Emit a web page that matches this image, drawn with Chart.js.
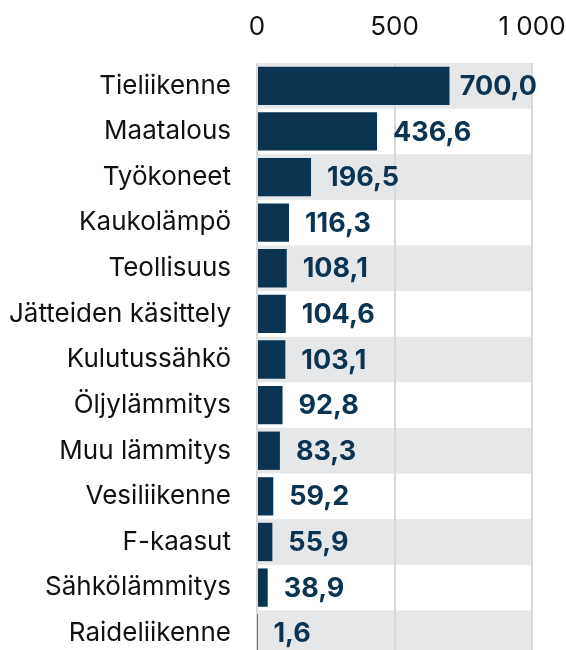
<!DOCTYPE html>
<html>
<head>
<meta charset="utf-8">
<script src="https://cdn.jsdelivr.net/npm/chart.js@4"></script>
<style>
    html, body { margin: 0; padding: 0; background: #fff; overflow: hidden; }
    #wrap { width: 566px; height: 656px; position: relative; }
</style>
</head>
<body>
<div id="wrap"><canvas id="chart"></canvas></div>
<script>
const categories = ["Tieliikenne", "Maatalous", "Työkoneet", "Kaukolämpö", "Teollisuus",
    "Jätteiden käsittely", "Kulutussähkö", "Öljylämmitys", "Muu lämmitys", "Vesiliikenne",
    "F-kaasut", "Sähkölämmitys", "Raideliikenne"];
const values = [700.0, 436.6, 196.5, 116.3, 108.1, 104.6, 103.1, 92.8, 83.3, 59.2, 55.9, 38.9, 1.6];
const tickValues = [0, 500, 1000];

const barColor = "#0b3352";
const bandColor = "#e6e7e8";
const gridColor = "#d9d9d9";

const fmtValue = v => v.toFixed(1).replace(".", ",");
const fmtTick = v => String(v).replace(/\B(?=(\d{3})+(?!\d))/g, " ");

// grey bands behind every other row
const rowBands = {
    id: "rowBands",
    beforeDraw(chart) {
        const {ctx, chartArea, scales} = chart;
        const y = scales.y;
        const step = Math.abs(y.getPixelForValue(1) - y.getPixelForValue(0));
        ctx.save();
        ctx.fillStyle = bandColor;
        categories.forEach((c, i) => {
            if (i % 2 !== 0) return;
            const cy = y.getPixelForValue(i);
            ctx.fillRect(chartArea.left, cy - step / 2, chartArea.right - chartArea.left, step);
        });
        ctx.restore();
    }
};

// value labels after each bar
const valueLabels = {
    id: "valueLabels",
    afterDatasetsDraw(chart) {
        const {ctx} = chart;
        const meta = chart.getDatasetMeta(0);
        ctx.save();
        ctx.font = "bold 27px Inter";
        ctx.fillStyle = barColor;
        ctx.textBaseline = "middle";
        ctx.textAlign = "left";
        meta.data.forEach((bar, i) => {
            const txt = fmtValue(values[i]);
            const w = ctx.measureText(txt).width;
            let x = bar.x + 16;
            if (x + w > 537) x = 537 - w;
            ctx.fillText(txt, x, bar.y + 1);
        });
        ctx.restore();
    }
};

new Chart(document.getElementById("chart"), {
    type: "bar",
    data: {
        labels: categories,
        datasets: [{
            data: values,
            backgroundColor: barColor,
            borderWidth: 0,
            barPercentage: 0.84,
            categoryPercentage: 1
        }]
    },
    options: {
        indexAxis: "y",
        responsive: true,
        maintainAspectRatio: false,
        animation: false,
        layout: { padding: { left: 0, right: 34, top: 0, bottom: 0 } },
        plugins: {
            legend: { display: false },
            tooltip: { enabled: false }
        },
        scales: {
            x: {
                position: "top",
                min: 0,
                max: 1000,
                afterBuildTicks: scale => {
                    scale.ticks = tickValues.map(v => ({value: v}));
                },
                afterFit: scale => {
                    scale.height = 63;
                    scale.paddingLeft = 0;
                    scale.paddingRight = 0;
                },
                ticks: {
                    callback: v => fmtTick(v),
                    color: "#111",
                    font: { family: "Inter", size: 26 },
                    padding: 20,
                    maxRotation: 0
                },
                grid: { color: gridColor, lineWidth: 2, drawTicks: false },
                border: { display: false }
            },
            y: {
                afterFit: scale => {
                    scale.width = 257;
                    scale.paddingTop = 0;
                    scale.paddingBottom = 0;
                },
                ticks: {
                    color: "#111",
                    font: { family: "Inter", size: 26 },
                    padding: 26
                },
                grid: { display: false, drawTicks: false },
                border: { display: false }
            }
        }
    },
    plugins: [rowBands, valueLabels]
});
</script>
</body>
</html>
